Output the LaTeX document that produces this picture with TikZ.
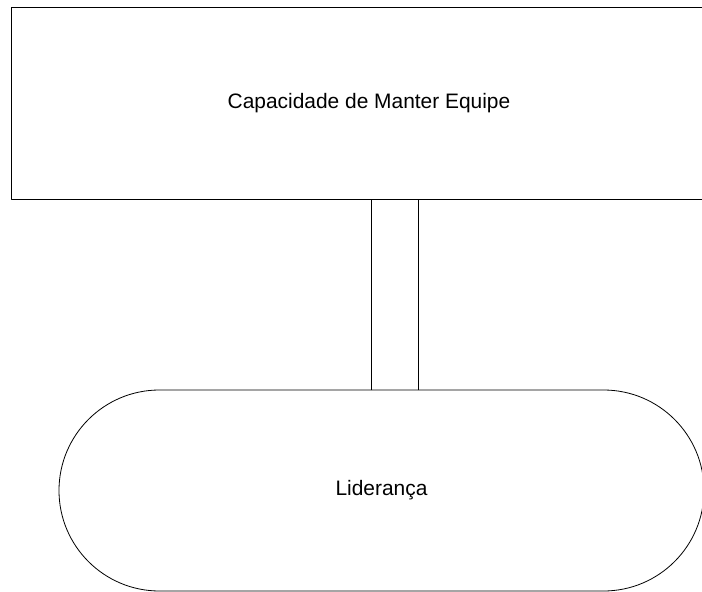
\documentclass[tikz,border=0pt]{standalone}
\usepackage{fontspec}
\setmainfont{Liberation Sans}
\usetikzlibrary{shapes.misc}
\begin{document}
\begin{tikzpicture}[x=1bp, y=-1bp, line width=.8bp, line join=round, line cap=round,
	font=\fontsize{21}{24}\selectfont,
	caixa/.style={draw, rectangle, minimum width=716bp, minimum height=192bp, inner sep=0pt},
	capsula/.style={draw, rounded rectangle, minimum width=645bp, minimum height=201bp, inner sep=0pt}]
		\useasboundingbox (0,0) rectangle (702,592);
		\clip (0,0) rectangle (702,592);
		\node[caixa] (capacidade) at (369,103.3) {Capacidade de Manter Equipe};
		\node[capsula] (lideranca) at (381.5,490.5) {Lideran\c{c}a};
		% ligacao dupla
		\draw (capacidade.south -| 371,0) -- (lideranca.north -| 371,0)
		(capacidade.south -| 418.5,0) -- (lideranca.north -| 418.5,0);
		\end{tikzpicture}
\end{document}
